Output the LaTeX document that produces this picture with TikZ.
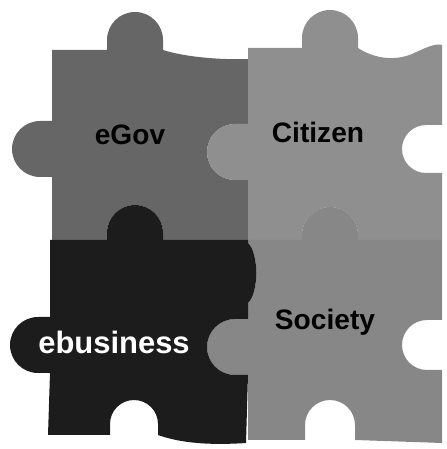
\documentclass[tikz,border=0pt]{standalone}
\usepackage{fontspec}
\setmainfont{Liberation Sans}

\begin{document}
\begin{tikzpicture}[x=0.025cm,y=0.025cm,
	word/.style={font=\bfseries\fontsize{20}{24}\selectfont}]
	\useasboundingbox (0,0) rectangle (447,449);
	% top left piece
	\fill[fill=black!60!white] (52,399) -- (107,399) -- (107,409) arc[start angle=180, end angle=0, radius=28] -- (163,399)
		.. controls (185,392) and (220,389) .. (248,390)
		-- (248,325) -- (235,325) arc[start angle=90, end angle=270, radius=28] -- (248,269)
		-- (248,209) -- (163,209) -- (163,216) arc[start angle=0, end angle=180, radius=28] -- (107,209)
		-- (52,209) -- (52,272) -- (40,272) arc[start angle=-90, end angle=-270, radius=28] -- (52,328) -- cycle;
	% top right piece
	\fill[fill=black!44!white] (248,401) -- (302,401) -- (302,411) arc[start angle=180, end angle=0, radius=28] -- (358,401)
		.. controls (375,390) and (395,388) .. (412,395) .. controls (425,401) and (435,406) .. (442,404)
		-- (442,324) -- (426,324) arc[start angle=90, end angle=270, radius=24] -- (442,276)
		-- (442,209) -- (358,209) -- (358,214) arc[start angle=0, end angle=180, radius=28] -- (302,209)
		-- (248,209) -- (248,269) -- (235,269) arc[start angle=270, end angle=90, radius=28] -- (248,325) -- cycle;
	% bottom right piece
	\fill[fill=black!47!white] (248,209) -- (302,209) -- (302,214) arc[start angle=180, end angle=0, radius=28] -- (358,209)
		-- (442,209) -- (442,129) -- (427,129) arc[start angle=90, end angle=270, radius=25] -- (442,79)
		-- (442,6) -- (355,9) -- (355,24) arc[start angle=0, end angle=180, radius=25] -- (305,9)
		-- (248,9) -- (248,74) -- (235,74) arc[start angle=270, end angle=90, radius=28] -- (248,130)
		-- (248,146) .. controls (259,156) and (259,196) .. (248,206) -- cycle;
	% bottom left piece
	\fill[fill=black!89!white] (50,209) -- (107,209) -- (107,216) arc[start angle=180, end angle=0, radius=28] -- (163,209)
		-- (248,209) -- (248,206) .. controls (259,196) and (259,156) .. (248,146)
		-- (248,130) -- (235,130) arc[start angle=90, end angle=270, radius=28] -- (248,74)
		-- (246,6) .. controls (200,3) and (175,8) .. (158,14) -- (158,25) arc[start angle=0, end angle=180, radius=24] -- (110,14)
		-- (48,14) -- (50,76) -- (38,76) arc[start angle=-90, end angle=-270, radius=28] -- (50,132) -- (50,209) -- cycle;
	\node[word] (egov) at (130,314) {eGov};
	\node[word] (citizen) at (318,317) {Citizen};
	\node[word] (society) at (325,127) {Society};
	\node[word, white, font=\bfseries\fontsize{22}{26}\selectfont] (ebusiness) at (114,107) {ebusiness};
\end{tikzpicture}
\end{document}
